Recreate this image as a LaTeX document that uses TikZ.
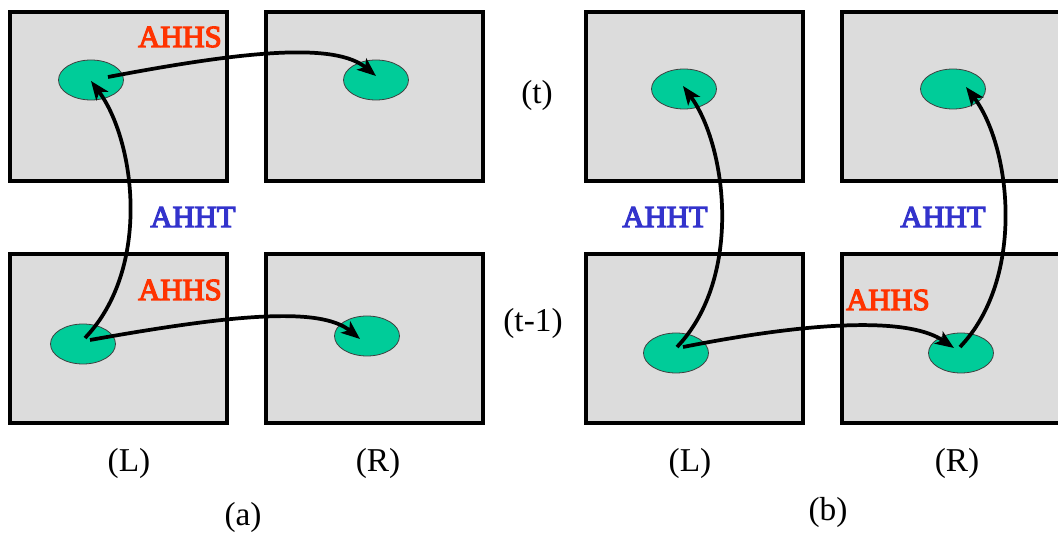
\documentclass[tikz,border=0pt]{standalone}
\usepackage{fontspec}
\setmainfont{Liberation Serif}
\newfontfamily\tagfont[FakeBold=4]{Liberation Serif}
\usetikzlibrary{arrows.meta,calc,positioning,shapes.geometric}
\definecolor{Frame}{HTML}{DCDCDC}
\definecolor{Blob}{HTML}{00CC99}
\definecolor{Spatial}{HTML}{FF3300}
\definecolor{Temporal}{HTML}{3333CC}
\tikzset{
  linkarrow/.style={-{Stealth[length=14pt,width=11pt,inset=3.5pt]},line width=2.8pt,draw=black},
  framebase/.style={rectangle,minimum width=162.75pt,minimum height=126.75pt,inner sep=0pt,
    draw=black,line width=3pt,fill=Frame},
  blob/.style={ellipse,minimum width=48.75pt,minimum height=30pt,inner sep=0pt,
    draw=black!75,line width=0.6pt,fill=Blob},
  tag/.style={inner sep=0pt,font=\fontsize{23}{27}\tagfont},
  caption/.style={inner sep=0pt,font=\fontsize{25}{29}\selectfont},
}

\begin{document}
\begin{tikzpicture}[x=0.75pt,y=-0.75pt,node distance=51.75pt and 26.25pt]
        \useasboundingbox (0,0) rectangle (1058,534);
        % frames, panel (a)
        \node[framebase] (fatl) at (118.5,96.5) {};
        \node[framebase,right=of fatl] (fatr) {};
        \node[framebase,below=of fatl] (fabl) {};
        \node[framebase,right=of fabl] (fabr) {};
        % frames, panel (b)
        \node[framebase] (fbtl) at (694.5,96.5) {};
        \node[framebase,right=of fbtl,minimum width=169pt] (fbtr) {};
        \node[framebase,below=of fbtl] (fbbl) {};
        \node[framebase,right=of fbbl,minimum width=169pt] (fbbr) {};
        % hands
        \node[blob] (atl) at (91,80) {};
        \node[blob] (atr) at (376,80) {};
        \node[blob] (abl) at (83,344) {};
        \node[blob] (abr) at (367,336) {};
        \node[blob] (btl) at (684,89) {};
        \node[blob] (btr) at (953,89) {};
        \node[blob] (bbl) at (676,353) {};
        \node[blob] (bbr) at (961,353) {};
        % links
        \draw[linkarrow] ($(atl.center)+(17,-3)$) .. controls (245,51) and (335,42) .. ($(atr.center)+(0,-4)$);
        \draw[linkarrow] ($(abl.center)+(2,-6)$) .. controls (152,268) and (135,140) .. ($(atl.center)+(0,1)$);
        \draw[linkarrow] ($(abl.center)+(7,-4)$) .. controls (230,315) and (320,306) .. ($(abr.center)+(-7,3)$);
        \draw[linkarrow] ($(bbl.center)+(1,-6)$) .. controls (743,278) and (727,146) .. ($(btl.center)+(-1,-3)$);
        \draw[linkarrow] ($(bbr.center)+(-1,-6)$) .. controls (1026,278) and (1011,146) .. ($(btr.center)+(13,-2)$);
        \draw[linkarrow] ($(bbl.center)+(7,-6)$) .. controls (820,320) and (910,318) .. ($(bbr.center)+(-7,-5)$);
        % labels
        \node[tag,text=Spatial] (hsa1) at (180,37) {AHHS};
        \node[tag,text=Temporal] (hta) at (193,217) {AHHT};
        \node[tag,text=Spatial] (hsa2) at (180,290) {AHHS};
        \node[tag,text=Temporal] (htb1) at (665,217) {AHHT};
        \node[tag,text=Temporal] (htb2) at (943,217) {AHHT};
        \node[tag,text=Spatial] (hsb) at (888,300) {AHHS};
        \node[caption] (tnow) at (537,95) {(t)};
        \node[caption] (tprev) at (533,323) {(t-1)};
        \node[caption] (la) at (129,463) {(L)};
        \node[caption] (ra) at (378,463) {(R)};
        \node[caption] (lb) at (690,463) {(L)};
        \node[caption] (rb) at (957,463) {(R)};
        \node[caption] (capa) at (243,517) {(a)};
        \node[caption] (capb) at (828,512) {(b)};
      \end{tikzpicture}
\end{document}
